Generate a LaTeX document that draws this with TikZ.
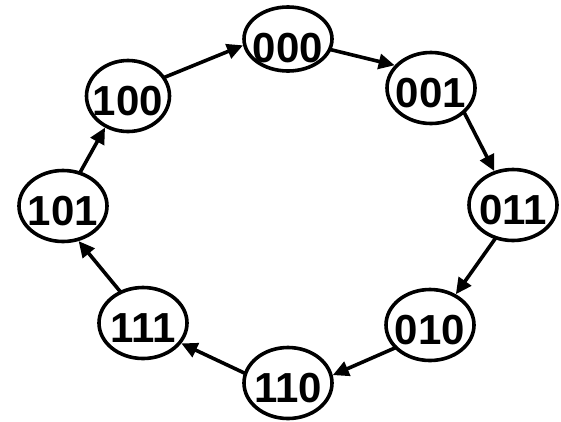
\documentclass[tikz,border=0pt]{standalone}
\usepackage{fontspec}
\setmainfont{Liberation Sans}[BoldFont={Liberation Sans Bold}]
\usetikzlibrary{shapes.geometric,arrows.meta}
\begin{document}
\begin{tikzpicture}[x=1pt,y=-1pt,
  state/.style={draw=black, line width=3.6pt, ellipse, inner sep=0pt,
    minimum width=88pt, minimum height=71pt},
  digits/.style={font=\bfseries\fontsize{42}{50}\selectfont, inner sep=0pt},
  trans/.style={line width=3.6pt, -{Triangle[length=16pt,width=15pt]}, shorten <=-3pt}]
\useasboundingbox (0,0) rectangle (561,421);
\node[state, minimum height=64pt] (s000) at (288,39) {};
\node[state] (s001) at (431,88) {};
\node[state] (s011) at (513,205) {};
\node[state] (s010) at (430,325) {};
\node[state] (s110) at (288,383) {};
\node[state] (s111) at (143,323) {};
\node[state] (s101) at (63,206) {};
\node[state, minimum width=83pt] (s100) at (128,96) {};
\node[digits] (t000) at ([yshift=-9pt]s000.center) {000};
\node[digits] (t001) at ([yshift=-5pt]s001.center) {001};
\node[digits] (t011) at ([yshift=-5pt]s011.center) {011};
\node[digits] (t010) at ([yshift=-5pt]s010.center) {010};
\node[digits] (t110) at ([yshift=-5pt]s110.center) {110};
\node[digits] (t111) at ([yshift=-5pt]s111.center) {111};
\node[digits] (t101) at ([yshift=-5pt]s101.center) {101};
\node[digits] (t100) at ([yshift=-5pt]s100.center) {100};
\draw[trans] (s100.27) -- (s000.188);
\draw[trans] (s000.346) -- (s001.148);
\draw[trans] (s001.323) -- (s011.119);
\draw[trans] (s011.242) -- (s010.50);
\draw[trans] (s010.213) -- (s110.10);
\draw[trans] (s110.167) -- (s111.332);
\draw[trans] (s111.126) -- (s101.294);
\draw[trans] (s101.63) -- (s100.234);
\end{tikzpicture}
\end{document}
